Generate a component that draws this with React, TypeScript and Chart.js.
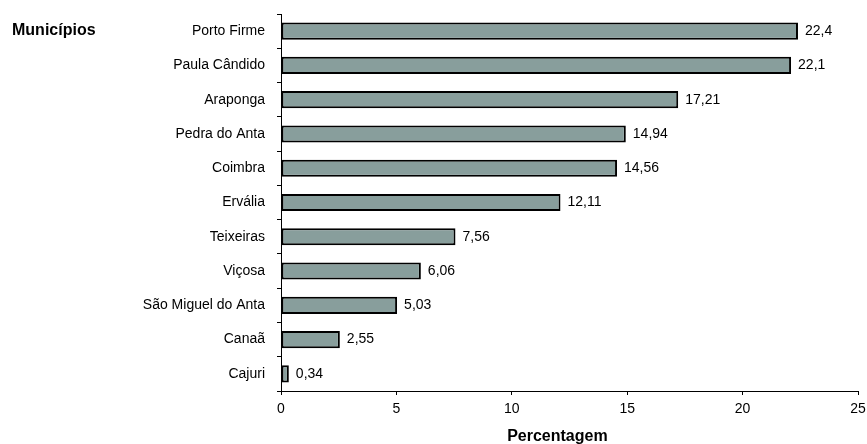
import React, { useEffect, useRef } from "react";
import { Chart, registerables } from "chart.js";

Chart.register(...registerables);

const categories = [
  "Porto Firme",
  "Paula Cândido",
  "Araponga",
  "Pedra do Anta",
  "Coimbra",
  "Ervália",
  "Teixeiras",
  "Viçosa",
  "São Miguel do Anta",
  "Canaã",
  "Cajuri",
];
const values = [22.4, 22.1, 17.21, 14.94, 14.56, 12.11, 7.56, 6.06, 5.03, 2.55, 0.34];
const xTicks = [0, 5, 10, 15, 20, 25];
const yTitle = "Municípios";
const xTitle = "Percentagem";

const FONT = "Arial, 'Liberation Sans', sans-serif";

export default function App() {
  const ref = useRef<HTMLCanvasElement>(null);

  useEffect(() => {
    document.body.style.margin = "0";
    const canvas = ref.current;
    if (!canvas) return;

    const valueLabels = {
      id: "valueLabels",
      afterDatasetsDraw(chart: any) {
        const ctx = chart.ctx;
        const meta = chart.getDatasetMeta(0);
        ctx.save();
        ctx.font = `14px ${FONT}`;
        ctx.fillStyle = "#000";
        ctx.textAlign = "left";
        ctx.textBaseline = "middle";
        meta.data.forEach((el: any, i: number) => {
          const txt = String(values[i]).replace(".", ",");
          ctx.fillText(txt, el.x + 7, el.y);
        });
        ctx.restore();
      },
    };

    const titles = {
      id: "titles",
      afterDraw(chart: any) {
        const ctx = chart.ctx;
        const area = chart.chartArea;
        ctx.save();
        ctx.font = `bold 16px ${FONT}`;
        ctx.fillStyle = "#000";
        ctx.textAlign = "left";
        ctx.textBaseline = "alphabetic";
        ctx.fillText(yTitle, 12, 35);
        ctx.textAlign = "center";
        ctx.textBaseline = "middle";
        ctx.fillText(xTitle, area.left + (area.right - area.left) * 0.479, 437);
        ctx.restore();
      },
    };

    const chart = new Chart(canvas, {
      type: "bar",
      data: {
        labels: categories,
        datasets: [
          {
            data: values,
            backgroundColor: "#889E9C",
            borderColor: "#000",
            borderWidth: 2,
            borderSkipped: false,
            barPercentage: 0.5,
            categoryPercentage: 1,
          },
        ],
      },
      options: {
        indexAxis: "y",
        animation: false,
        responsive: false,
        maintainAspectRatio: false,
        devicePixelRatio: 1,
        layout: { padding: { top: 14, right: 9, bottom: 0, left: 0 } },
        plugins: {
          legend: { display: false },
          tooltip: { enabled: false },
          title: { display: false },
        },
        scales: {
          x: {
            type: "linear",
            min: 0,
            max: 25,
            afterBuildTicks(scale: any) {
              scale.ticks = xTicks.map((v) => ({ value: v }));
            },
            afterFit(scale: any) {
              scale.height = 53;
              scale.paddingLeft = 0;
              scale.paddingRight = 0;
            },
            ticks: {
              color: "#000",
              font: { family: FONT, size: 14 },
              padding: 6,
              maxRotation: 0,
              callback: (v: any) => String(v),
            },
            grid: {
              display: true,
              drawOnChartArea: false,
              drawTicks: true,
              tickLength: 4,
              color: "#000",
            },
            border: { display: true, color: "#000", width: 1 },
          },
          y: {
            type: "category",
            afterFit(scale: any) {
              scale.width = 281;
              scale.paddingTop = 0;
              scale.paddingBottom = 0;
            },
            ticks: {
              color: "#000",
              font: { family: FONT, size: 14 },
              padding: 12,
            },
            grid: {
              display: true,
              offset: true,
              drawOnChartArea: false,
              drawTicks: true,
              tickLength: 4,
              color: "#000",
            },
            border: { display: true, color: "#000", width: 1 },
          },
        },
      },
      plugins: [valueLabels, titles],
    });

    return () => chart.destroy();
  }, []);

  return (
    <div style={{ width: 867, height: 444 }}>
      <canvas ref={ref} width={867} height={444} style={{ display: "block" }} />
    </div>
  );
}
